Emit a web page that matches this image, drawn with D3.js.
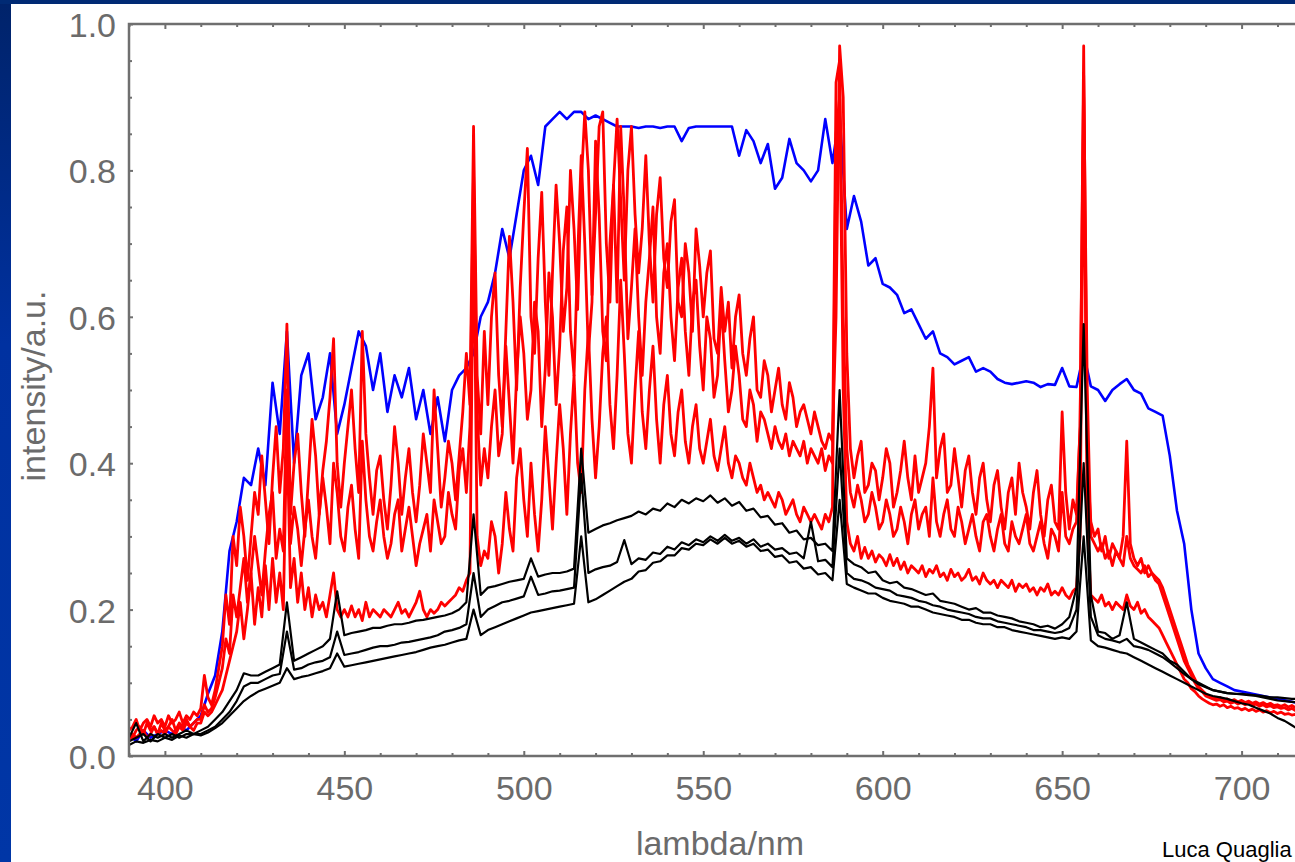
<!DOCTYPE html>
<html>
<head>
<meta charset="utf-8">
<script src="https://cdn.jsdelivr.net/npm/d3@7"></script>
<style>
  body { margin: 0; background: #fff; }
  svg { display: block; font-family: "Liberation Sans", Arial, sans-serif; }
</style>
</head>
<body>
<div id="chart"></div>
<script>
// blue + black spectra sampled every 2 nm, red spectra every 1 nm (390..720)
const wavelengths = d3.range(390, 721, 2);
const redWavelengths = d3.range(390, 721, 1);

const xMajor = [400, 450, 500, 550, 600, 650, 700];
const yMajor = [0, 0.2, 0.4, 0.6, 0.8, 1.0];

const blue = [
  .030,.020,.035,.025,.030,.035,.030,.040,.035,.045,
  .055,.085,.110,.170,.280,.320,.380,.370,.420,.370,
  .510,.440,.580,.400,.520,.550,.460,.490,.550,.440,
  .480,.530,.580,.560,.500,.550,.470,.520,.490,.530,
  .460,.500,.440,.490,.430,.500,.520,.530,.550,.600,
  .620,.660,.720,.680,.740,.800,.820,.780,.860,.870,
  .880,.870,.880,.880,.870,.875,.870,.865,.860,.860,
  .860,.858,.860,.860,.858,.860,.860,.840,.858,.860,
  .860,.860,.860,.860,.860,.820,.855,.840,.810,.836,
  .775,.790,.843,.810,.800,.785,.800,.870,.810,.877,
  .720,.765,.730,.670,.680,.645,.640,.630,.605,.610,
  .590,.570,.580,.550,.545,.535,.540,.545,.525,.530,
  .525,.515,.510,.508,.510,.512,.510,.504,.508,.507,
  .530,.505,.504,.550,.505,.500,.485,.500,.508,.515,
  .500,.495,.475,.470,.465,.410,.335,.290,.200,.140,
  .120,.105,.100,.095,.090,.088,.086,.084,.082,.080,
  .078,.076,.074,.072,.070,.070
];

const red1 = [
  .035,.040,.050,.035,.045,.050,.040,.055,.045,.050,
  .040,.055,.045,.050,.060,.045,.055,.050,.060,.055,
  .065,.110,.080,.070,.090,.120,.150,.220,.180,.300,
  .260,.340,.300,.240,.300,.360,.330,.410,.350,.290,
  .380,.450,.360,.420,.590,.330,.400,.440,.360,.300,
  .380,.460,.410,.330,.390,.430,.490,.570,.400,.340,
  .400,.450,.500,.420,.360,.580,.440,.380,.330,.390,
  .410,.350,.310,.370,.450,.400,.330,.380,.420,.360,
  .320,.370,.440,.400,.360,.500,.420,.340,.380,.430,
  .400,.350,.410,.470,.550,.480,.860,.520,.440,.580,
  .480,.600,.660,.520,.450,.580,.710,.620,.500,.640,
  .740,.830,.600,.550,.680,.770,.620,.520,.660,.780,
  .700,.580,.640,.800,.720,.610,.780,.880,.800,.630,
  .740,.860,.880,.700,.620,.780,.870,.760,.650,.800,
  .860,.740,.660,.720,.820,.700,.620,.740,.790,.680,
  .640,.730,.760,.620,.600,.700,.660,.580,.720,.670,
  .600,.660,.690,.570,.550,.640,.580,.620,.530,.600,
  .630,.550,.520,.570,.600,.500,.490,.540,.520,.470,
  .500,.530,.480,.460,.510,.490,.450,.470,.480,.460,
  .440,.470,.450,.430,.420,.440,.430,.600,.970,.900,
  .550,.420,.380,.410,.430,.360,.370,.400,.390,.350,
  .380,.420,.400,.340,.360,.390,.430,.380,.350,.410,
  .360,.380,.400,.450,.530,.380,.420,.440,.360,.370,
  .420,.380,.340,.390,.410,.360,.330,.380,.400,.350,
  .320,.370,.390,.340,.310,.360,.380,.330,.400,.360,
  .340,.310,.360,.390,.330,.300,.350,.370,.320,.310,
  .470,.360,.310,.350,.330,.450,.970,.400,.320,.300,
  .310,.280,.300,.270,.290,.280,.270,.300,.430,.290,
  .270,.260,.270,.250,.260,.250,.245,.240,.230,.215,
  .200,.185,.170,.155,.140,.125,.115,.105,.095,.090,
  .085,.082,.080,.078,.080,.076,.078,.075,.077,.074,
  .076,.073,.075,.072,.074,.071,.073,.070,.072,.069,
  .070,.068,.070,.067,.069,.066,.068,.065,.067,.064,
  .066
];

const red2 = [
  .030,.025,.035,.040,.030,.045,.035,.040,.030,.045,
  .035,.040,.050,.035,.045,.040,.050,.040,.045,.050,
  .050,.070,.060,.065,.080,.100,.120,.160,.140,.220,
  .190,.230,.270,.210,.250,.300,.260,.220,.280,.330,
  .360,.270,.310,.280,.500,.290,.340,.310,.260,.310,
  .350,.300,.270,.330,.380,.340,.290,.400,.360,.300,
  .280,.340,.370,.310,.270,.430,.350,.300,.280,.320,
  .350,.300,.270,.290,.330,.350,.280,.310,.340,.300,
  .260,.290,.310,.330,.280,.350,.320,.290,.300,.360,
  .330,.310,.390,.420,.360,.450,.800,.470,.370,.420,
  .380,.450,.500,.410,.440,.560,.480,.400,.520,.600,
  .550,.460,.500,.620,.580,.450,.530,.660,.600,.480,
  .560,.690,.750,.580,.520,.680,.820,.700,.550,.620,
  .840,.740,.580,.540,.700,.780,.620,.860,.740,.570,
  .640,.720,.600,.520,.620,.680,.750,.600,.550,.660,
  .700,.600,.540,.640,.680,.580,.520,.620,.650,.560,
  .500,.600,.570,.490,.520,.620,.540,.470,.500,.560,
  .520,.460,.450,.500,.480,.430,.470,.460,.440,.420,
  .450,.430,.420,.440,.410,.430,.420,.410,.430,.400,
  .420,.410,.400,.420,.390,.410,.400,.920,.950,.600,
  .420,.360,.340,.370,.350,.320,.330,.360,.340,.310,
  .320,.350,.330,.300,.310,.340,.320,.290,.330,.350,
  .310,.330,.340,.300,.380,.320,.300,.330,.350,.310,
  .300,.340,.320,.290,.310,.330,.300,.280,.320,.330,
  .300,.280,.310,.330,.290,.280,.320,.300,.290,.310,
  .330,.290,.280,.300,.320,.290,.270,.310,.300,.280,
  .360,.300,.290,.310,.320,.450,.930,.500,.300,.290,
  .280,.290,.270,.280,.260,.280,.270,.260,.300,.270,
  .260,.255,.250,.260,.245,.250,.240,.235,.220,.205,
  .190,.175,.160,.145,.130,.120,.110,.100,.092,.088,
  .082,.080,.078,.076,.077,.074,.075,.072,.074,.071,
  .073,.070,.072,.069,.071,.068,.070,.067,.069,.066,
  .067,.065,.066,.063,.065,.062,.064,.061,.063,.060,
  .062
];

const red3 = [
  .020,.030,.025,.030,.035,.025,.030,.040,.030,.035,
  .030,.040,.035,.030,.040,.035,.045,.040,.035,.045,
  .045,.060,.055,.060,.070,.080,.090,.110,.130,.150,
  .170,.210,.160,.200,.250,.180,.230,.190,.260,.200,
  .270,.210,.250,.200,.450,.230,.270,.210,.250,.200,
  .230,.190,.220,.200,.210,.190,.220,.250,.200,.190,
  .200,.190,.205,.190,.200,.185,.210,.190,.200,.195,
  .190,.200,.195,.190,.200,.210,.195,.200,.190,.200,
  .210,.225,.200,.190,.200,.195,.200,.210,.205,.210,
  .215,.220,.230,.225,.240,.250,.750,.300,.260,.280,
  .270,.320,.300,.250,.290,.360,.310,.280,.380,.420,
  .350,.300,.400,.330,.280,.350,.450,.380,.310,.400,
  .480,.420,.330,.440,.520,.400,.360,.500,.580,.460,
  .380,.450,.550,.600,.480,.420,.520,.650,.550,.440,
  .400,.500,.580,.470,.420,.500,.560,.460,.400,.480,
  .520,.440,.410,.470,.500,.430,.400,.450,.480,.420,
  .400,.430,.460,.410,.390,.420,.450,.400,.380,.410,
  .400,.380,.370,.400,.380,.360,.370,.350,.360,.350,
  .340,.360,.350,.330,.340,.350,.330,.320,.340,.330,
  .320,.330,.320,.310,.330,.320,.340,.850,.900,.500,
  .320,.290,.280,.300,.270,.285,.270,.280,.265,.275,
  .270,.260,.275,.260,.270,.255,.265,.250,.260,.255,
  .250,.260,.245,.255,.250,.260,.245,.250,.240,.255,
  .245,.250,.240,.245,.255,.240,.245,.235,.250,.240,
  .235,.240,.230,.240,.235,.230,.240,.225,.235,.230,
  .235,.225,.230,.220,.230,.225,.235,.220,.225,.220,
  .230,.220,.215,.225,.230,.300,.900,.320,.220,.215,
  .210,.220,.205,.210,.200,.210,.205,.200,.220,.205,
  .200,.210,.195,.200,.190,.185,.180,.175,.165,.155,
  .145,.135,.125,.115,.105,.100,.092,.088,.082,.078,
  .075,.072,.070,.071,.068,.070,.066,.068,.065,.066,
  .063,.065,.062,.064,.061,.063,.060,.062,.059,.061,
  .058,.060,.057,.058,.056,.057,.055,.056,.054,.055,
  .055
];

const black1 = [
  .025,.045,.020,.030,.025,.030,.025,.030,.035,.030,
  .035,.040,.050,.060,.075,.090,.113,.110,.110,.115,
  .120,.125,.210,.130,.135,.140,.145,.150,.160,.225,
  .165,.168,.170,.172,.175,.175,.178,.180,.180,.182,
  .185,.186,.188,.190,.192,.195,.200,.210,.330,.220,
  .230,.232,.235,.238,.240,.242,.270,.245,.248,.250,
  .250,.252,.256,.420,.305,.310,.315,.318,.322,.325,
  .328,.334,.330,.338,.335,.345,.340,.350,.345,.352,
  .348,.356,.346,.352,.342,.347,.335,.338,.326,.328,
  .316,.318,.305,.308,.296,.298,.288,.290,.280,.500,
  .270,.262,.258,.250,.252,.240,.236,.238,.230,.228,
  .224,.220,.222,.212,.210,.208,.204,.200,.202,.196,
  .196,.192,.190,.188,.184,.182,.180,.176,.178,.174,
  .180,.190,.230,.590,.220,.170,.168,.160,.165,.210,
  .160,.155,.150,.145,.140,.130,.125,.115,.105,.100,
  .095,.090,.088,.086,.085,.085,.084,.083,.082,.080,
  .080,.079,.078,.078,.077,.077
];

const black2 = [
  .020,.025,.030,.020,.030,.025,.030,.025,.030,.030,
  .030,.035,.040,.050,.060,.075,.095,.100,.100,.105,
  .110,.112,.170,.118,.120,.125,.128,.130,.135,.170,
  .138,.140,.142,.145,.148,.150,.150,.152,.155,.156,
  .158,.160,.162,.165,.170,.172,.175,.180,.250,.190,
  .200,.205,.210,.212,.215,.218,.245,.220,.222,.225,
  .226,.228,.230,.385,.250,.255,.258,.260,.265,.295,
  .262,.270,.268,.278,.276,.286,.282,.292,.288,.296,
  .292,.300,.294,.302,.294,.298,.290,.296,.286,.290,
  .282,.284,.276,.278,.270,.320,.266,.268,.258,.420,
  .250,.242,.240,.236,.230,.228,.226,.220,.218,.216,
  .212,.210,.206,.204,.200,.198,.196,.194,.190,.188,
  .188,.184,.182,.180,.178,.176,.172,.172,.170,.168,
  .170,.175,.200,.400,.190,.165,.160,.158,.155,.160,
  .150,.148,.145,.140,.135,.128,.120,.112,.105,.098,
  .094,.090,.088,.086,.085,.084,.083,.082,.080,.078,
  .076,.075,.074,.073,.072,.072
];

const black3 = [
  .015,.020,.018,.022,.020,.025,.022,.028,.025,.030,
  .028,.032,.038,.045,.055,.065,.075,.082,.088,.092,
  .096,.100,.120,.105,.108,.110,.113,.116,.120,.140,
  .122,.124,.126,.128,.130,.132,.134,.136,.138,.140,
  .142,.145,.148,.150,.152,.155,.158,.160,.200,.165,
  .172,.176,.180,.184,.188,.192,.196,.198,.200,.202,
  .204,.206,.208,.300,.210,.214,.220,.226,.232,.238,
  .242,.252,.254,.264,.266,.274,.274,.284,.282,.290,
  .288,.296,.290,.298,.290,.294,.286,.290,.280,.282,
  .272,.274,.264,.266,.256,.258,.248,.250,.240,.350,
  .235,.230,.226,.222,.222,.216,.212,.210,.208,.204,
  .204,.200,.196,.194,.192,.190,.186,.186,.182,.180,
  .180,.176,.176,.172,.170,.168,.166,.164,.162,.160,
  .162,.160,.170,.300,.158,.150,.148,.145,.142,.140,
  .135,.130,.125,.120,.115,.110,.105,.100,.095,.090,
  .085,.082,.080,.078,.075,.072,.070,.066,.062,.058,
  .052,.048,.042,.036,.034,.032
];

const series = [
  { grid: wavelengths,    values: blue,   color: "#0000ff", width: 2.6 },
  { grid: redWavelengths, values: red1,   color: "#ff0000", width: 2.8 },
  { grid: redWavelengths, values: red2,   color: "#ff0000", width: 2.8 },
  { grid: redWavelengths, values: red3,   color: "#ff0000", width: 2.8 },
  { grid: wavelengths,    values: black1, color: "#000000", width: 2.2 },
  { grid: wavelengths,    values: black2, color: "#000000", width: 2.2 },
  { grid: wavelengths,    values: black3, color: "#000000", width: 2.2 }
];

const W = 1295, H = 862;
const plotLeft = 129, plotTop = 24, plotBottom = 756;
const axisGray = "#6f6f6f";

const svg = d3.select("#chart")
  .append("svg")
  .attr("width", W)
  .attr("height", H);

// slide background: blue bars on the left and top
const defs = svg.append("defs");
const grad = defs.append("linearGradient")
  .attr("id", "sideGrad")
  .attr("x1", 0).attr("y1", 0).attr("x2", 0).attr("y2", 1);
grad.append("stop").attr("offset", "0%").attr("stop-color", "#00236a");
grad.append("stop").attr("offset", "40%").attr("stop-color", "#0031a0");
grad.append("stop").attr("offset", "100%").attr("stop-color", "#0036a6");

svg.append("rect").attr("width", W).attr("height", H).attr("fill", "#fff");
svg.append("rect").attr("x", 0).attr("y", 0).attr("width", 11).attr("height", H).attr("fill", "url(#sideGrad)");
svg.append("rect").attr("x", 0).attr("y", 0).attr("width", W).attr("height", 4).attr("fill", "#002a74");

const x = d3.scaleLinear()
  .domain([390, 720])
  .range([plotLeft, plotLeft + 330 * 3.589]);

const y = d3.scaleLinear()
  .domain([0, 1])
  .range([plotBottom, plotTop]);

defs.append("clipPath").attr("id", "plotClip")
  .append("rect")
  .attr("x", x(390)).attr("y", y(1))
  .attr("width", x(720) - x(390)).attr("height", y(0) - y(1));

const lines = svg.append("g").attr("clip-path", "url(#plotClip)");
series.forEach(s => {
  const line = d3.line()
    .x((d, i) => x(s.grid[i]))
    .y(d => y(d));
  lines.append("path")
    .datum(s.values)
    .attr("d", line)
    .attr("fill", "none")
    .attr("stroke", s.color)
    .attr("stroke-width", s.width)
    .attr("stroke-linejoin", "round");
});

// ===== AXES (frame with inward ticks) =====
const xMinor = d3.range(390, 721, 10).filter(v => v % 50 !== 0);
const yMinor = d3.range(0, 1.001, 0.05).filter(v => Math.abs(v * 5 - Math.round(v * 5)) > 1e-6);

function styleAxis(g) {
  g.select(".domain").remove();
  g.selectAll(".tick line").attr("stroke", axisGray).attr("stroke-width", 2);
  g.selectAll("text")
    .attr("fill", "#6b6b6b")
    .attr("font-size", 34)
    .attr("font-family", "Liberation Sans, Arial, sans-serif");
}

svg.append("g")
  .attr("transform", `translate(0,${plotBottom})`)
  .call(d3.axisBottom(x).tickValues(xMajor).tickSize(-5).tickPadding(20).tickFormat(d3.format("d")))
  .call(styleAxis);
svg.append("g")
  .attr("transform", `translate(0,${plotBottom})`)
  .call(d3.axisBottom(x).tickValues(xMinor).tickSize(-3).tickFormat(""))
  .call(styleAxis);

svg.append("g")
  .attr("transform", `translate(0,${plotTop})`)
  .call(d3.axisTop(x).tickValues(xMajor).tickSize(-5).tickFormat(""))
  .call(styleAxis);
svg.append("g")
  .attr("transform", `translate(0,${plotTop})`)
  .call(d3.axisTop(x).tickValues(xMinor).tickSize(-3).tickFormat(""))
  .call(styleAxis);

svg.append("g")
  .attr("transform", `translate(${plotLeft},0)`)
  .call(d3.axisLeft(y).tickValues(yMajor).tickSize(-4).tickPadding(13).tickFormat(d3.format(".1f")))
  .call(styleAxis)
  .selectAll("text").attr("dy", "0.37em");
svg.append("g")
  .attr("transform", `translate(${plotLeft},0)`)
  .call(d3.axisLeft(y).tickValues(yMinor).tickSize(-3).tickFormat(""))
  .call(styleAxis);

// frame
svg.append("rect")
  .attr("x", x(390)).attr("y", y(1))
  .attr("width", x(720) - x(390)).attr("height", y(0) - y(1))
  .attr("fill", "none")
  .attr("stroke", axisGray)
  .attr("stroke-width", 2.5);

// axis labels
svg.append("text")
  .attr("x", 720)
  .attr("y", 855)
  .attr("text-anchor", "middle")
  .attr("fill", "#6b6b6b")
  .style("font-size", "34px")
  .text("lambda/nm");

svg.append("text")
  .attr("transform", "translate(45,386) rotate(-90)")
  .attr("text-anchor", "middle")
  .attr("fill", "#6b6b6b")
  .style("font-size", "34px")
  .text("intensity/a.u.");

svg.append("text")
  .attr("x", 1162)
  .attr("y", 857)
  .attr("fill", "#000")
  .style("font-size", "22px")
  .text("Luca Quaglia");
</script>
</body>
</html>
